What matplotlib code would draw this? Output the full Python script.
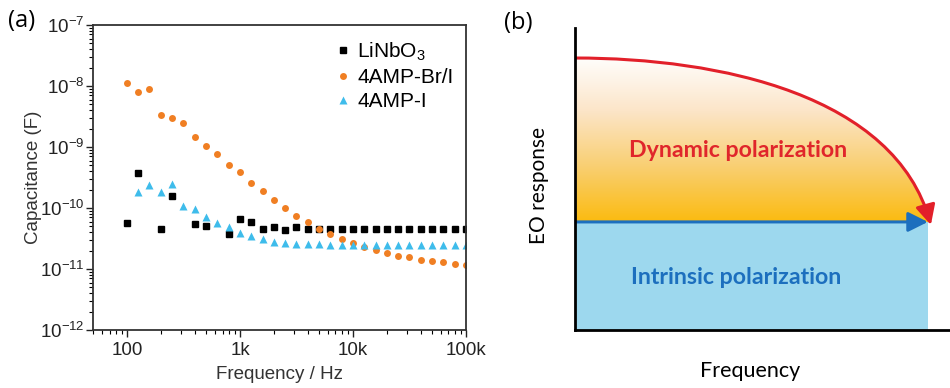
import numpy as np
import matplotlib.pyplot as plt
from matplotlib.colors import LinearSegmentedColormap
from matplotlib.path import Path
from matplotlib.patches import PathPatch, FancyArrowPatch, Rectangle
from matplotlib.ticker import FixedLocator, FixedFormatter, LogLocator, NullFormatter

plt.rcParams['font.family'] = ['Liberation Sans', 'DejaVu Sans']
plt.rcParams['mathtext.default'] = 'regular'

# frequencies (Hz), 10 points per decade
freq = [100, 126, 158, 200, 251, 316, 398, 501, 631, 794,
        1000, 1259, 1585, 1995, 2512, 3162, 3981, 5012, 6310, 7943,
        10000, 12589, 15849, 19953, 25119, 31623, 39811, 50119, 63096, 79433,
        100000]

# 4AMP-Br/I capacitance (F)
cap_brI = [1.13e-8, 8.1e-9, 8.8e-9, 3.35e-9, 2.95e-9, 2.45e-9, 1.48e-9, 1.02e-9, 7.8e-10, 5.1e-10,
           3.85e-10, 2.6e-10, 1.87e-10, 1.34e-10, 9.9e-11, 7.5e-11, 5.8e-11, 4.6e-11, 3.75e-11, 3.1e-11,
           2.67e-11, 2.26e-11, 2.02e-11, 1.83e-11, 1.65e-11, 1.55e-11, 1.42e-11, 1.34e-11, 1.29e-11, 1.23e-11,
           1.18e-11]

# LiNbO3 (some points missing)
freq_lnb = [100, 126, 200, 251, 398, 501, 794,
            1000, 1259, 1585, 1995, 2512, 3162, 3981, 5012, 6310, 7943,
            10000, 12589, 15849, 19953, 25119, 31623, 39811, 50119, 63096, 79433,
            100000]
cap_lnb = [5.7e-11, 3.7e-10, 4.5e-11, 1.59e-10, 5.5e-11, 5.1e-11, 3.75e-11,
           6.5e-11, 5.8e-11, 4.5e-11, 4.8e-11, 4.35e-11, 4.8e-11, 4.5e-11, 4.5e-11, 4.5e-11, 4.5e-11,
           4.5e-11, 4.5e-11, 4.5e-11, 4.5e-11, 4.5e-11, 4.5e-11, 4.5e-11, 4.5e-11, 4.5e-11, 4.5e-11,
           4.5e-11]

# 4AMP-I (starts at 126 Hz)
freq_i = freq[1:]
cap_i = [1.8e-10, 2.4e-10, 1.8e-10, 2.5e-10, 1.09e-10, 9.6e-11, 7.1e-11, 5.7e-11, 4.8e-11,
         3.9e-11, 3.5e-11, 3.1e-11, 2.8e-11, 2.63e-11, 2.55e-11, 2.55e-11, 2.55e-11, 2.5e-11, 2.5e-11,
         2.5e-11, 2.5e-11, 2.45e-11, 2.45e-11, 2.45e-11, 2.45e-11, 2.45e-11, 2.45e-11, 2.45e-11, 2.45e-11,
         2.45e-11]

xticks = [100, 1000, 10000, 100000]
xticklabels = ['100', '1k', '10k', '100k']

fig = plt.figure(figsize=(9.5, 3.88), dpi=100)

# ---------------- panel (a) ----------------
ax = fig.add_axes([0.0979, 0.1495, 0.3926, 0.786])
ax.plot(freq_lnb, cap_lnb, 's', color='black', ms=5, label='LiNbO$_3$')
ax.plot(freq, cap_brI, 'o', color='#F07F23', ms=5, mec='none', label='4AMP-Br/I')
ax.plot(freq_i, cap_i, '^', color='#3EBCEB', ms=6, mec='none', label='4AMP-I')
ax.set_xscale('log')
ax.set_yscale('log')
ax.set_xlim(50, 100000)
ax.set_ylim(1e-12, 1e-7)
ax.xaxis.set_major_locator(FixedLocator(xticks))
ax.xaxis.set_major_formatter(FixedFormatter(xticklabels))
ax.xaxis.set_minor_locator(LogLocator(base=10, subs=np.arange(2, 10), numticks=20))
ax.xaxis.set_minor_formatter(NullFormatter())
ax.yaxis.set_major_locator(LogLocator(base=10, numticks=10))
ax.yaxis.set_minor_locator(LogLocator(base=10, subs=np.arange(2, 10), numticks=20))
ax.yaxis.set_minor_formatter(NullFormatter())
ax.tick_params(which='major', direction='out', length=5, width=1, labelsize=13.5, colors='#222222')
ax.tick_params(axis='y', which='major', pad=1)
ax.tick_params(which='minor', direction='out', length=3, width=0.8)
for s in ax.spines.values():
    s.set_linewidth(1.3)
    s.set_color('#333333')
ax.set_ylabel('Capacitance (F)', fontsize=13.5, color='#333333')
ax.set_xlabel('Frequency / Hz', fontsize=13.5, color='#333333')
ax.yaxis.set_label_coords(-0.16, 0.5)
ax.xaxis.set_label_coords(0.5, -0.145)
ax.xaxis.label.set_va('center')
ax.yaxis.label.set_va('center')
ax.legend(loc='upper right', frameon=False, fontsize=15, handletextpad=0.2,
          handlelength=1.0, borderaxespad=0.2, labelspacing=0.25, markerscale=1.0,
          bbox_to_anchor=(1.0, 0.99))
fig.text(0.008, 0.945, '(a)', fontsize=17, family=['Open Sans', 'DejaVu Sans'], va='center')

# ---------------- panel (b) ----------------
bx = fig.add_axes([0.6053, 0.1495, 0.3947, 0.778])
bx.set_xlim(0, 1)
bx.set_ylim(0, 1)
bx.axis('off')

base = 0.358       # top of intrinsic (blue) region
x_end = 0.941
curve_pts = [(0, 0.901), (0.387, 0.901), (0.853, 0.778), (0.949, 0.348)]

# gradient fill clipped to area under the curve
fill_verts = [(0, base)] + curve_pts + [(x_end, base), (0, base)]
fill_codes = [Path.MOVETO, Path.LINETO, Path.CURVE4, Path.CURVE4, Path.CURVE4,
              Path.LINETO, Path.CLOSEPOLY]
fill_patch = PathPatch(Path(fill_verts, fill_codes), facecolor='none', edgecolor='none')
bx.add_patch(fill_patch)
cmap = LinearSegmentedColormap.from_list('warm', ['#FBBB10', '#F9CF72', '#FCE5C8', '#FFFFFF'])
grad = np.linspace(0, 1, 256).reshape(-1, 1)
img = bx.imshow(grad, cmap=cmap, extent=[0, 1, base, 0.91], origin='lower',
                aspect='auto', zorder=1)
img.set_clip_path(fill_patch)

bx.add_patch(Rectangle((0, 0), x_end, base, facecolor='#9DD8EE', edgecolor='none', zorder=2))

# red curved arrow
red_path = Path(curve_pts, [Path.MOVETO, Path.CURVE4, Path.CURVE4, Path.CURVE4])
bx.add_patch(FancyArrowPatch(path=red_path, arrowstyle='-|>,head_length=12,head_width=6',
                             color='#E2202A', lw=2.2, zorder=4, shrinkA=0, shrinkB=0))
# blue straight arrow
bx.add_patch(FancyArrowPatch((0, base), (x_end, base), arrowstyle='-|>,head_length=12,head_width=6',
                             color='#1C6FBE', lw=2.2, zorder=3, shrinkA=0, shrinkB=0))

# axes lines
bx.plot([0, 0], [0, 1], color='black', lw=2, clip_on=False, zorder=5)
bx.plot([0, 1], [0, 0], color='black', lw=2, clip_on=False, zorder=5)

bfont = ['Lato', 'DejaVu Sans']
bx.text(0.435, 0.595, 'Dynamic polarization', color='#E0262B', fontsize=16.7,
        fontweight='bold', family=bfont, ha='center', va='center')
bx.text(0.43, 0.175, 'Intrinsic polarization', color='#1C6FBE', fontsize=16.7,
        fontweight='bold', family=bfont, ha='center', va='center')
bx.text(-0.095, 0.48, 'EO response', rotation=90, fontsize=15, family=bfont,
        ha='center', va='center')
bx.text(0.467, -0.135, 'Frequency', fontsize=15.5, family=bfont, ha='center', va='center')
fig.text(0.531, 0.942, '(b)', fontsize=17, family=['Open Sans', 'DejaVu Sans'], va='center')

fig.savefig('out.png', dpi=100)
